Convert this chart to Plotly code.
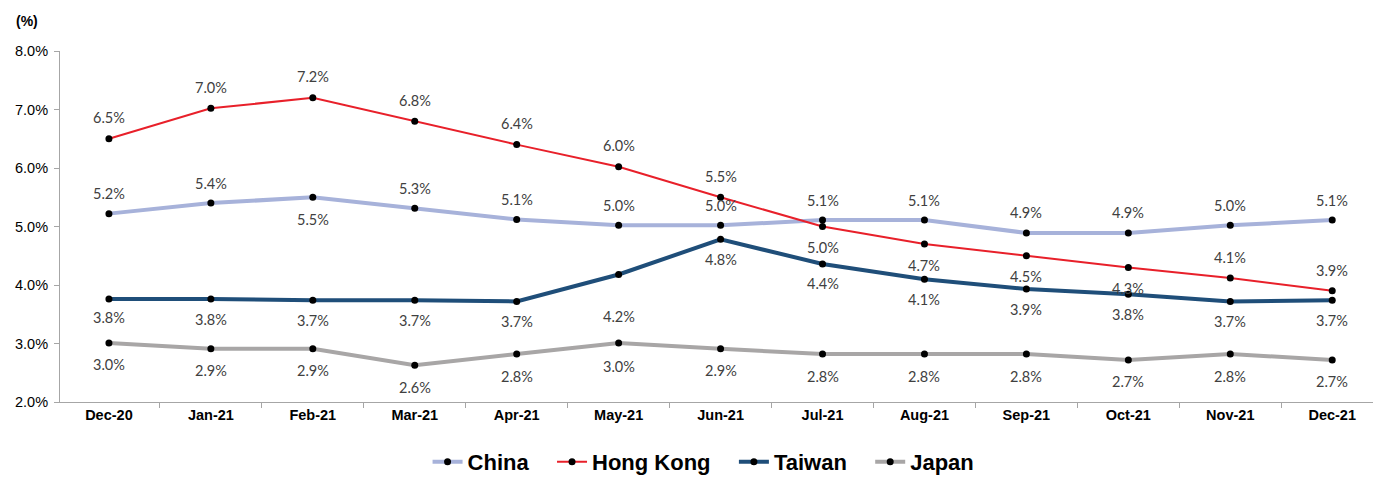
import plotly.graph_objects as go

months = ["Dec-20", "Jan-21", "Feb-21", "Mar-21", "Apr-21", "May-21", "Jun-21",
          "Jul-21", "Aug-21", "Sep-21", "Oct-21", "Nov-21", "Dec-21"]
china = [5.22, 5.40, 5.50, 5.31, 5.12, 5.02, 5.02, 5.11, 5.11, 4.89, 4.89, 5.02, 5.11]
hong_kong = [6.5, 7.02, 7.2, 6.8, 6.4, 6.02, 5.5, 5.0, 4.7, 4.5, 4.3, 4.12, 3.9]
taiwan = [3.76, 3.76, 3.74, 3.74, 3.72, 4.18, 4.78, 4.36, 4.10, 3.93, 3.84, 3.72, 3.74]
japan = [3.01, 2.91, 2.91, 2.63, 2.82, 3.01, 2.91, 2.82, 2.82, 2.82, 2.72, 2.82, 2.72]

# label offsets in pixels (positive = above)
china_off = [20, 20, -22, 20, 20, 20, 20, 20, 20, 20, 20, 20, 20]
hk_off = [21, 21, 21, 21, 21, 21, 21, -21, -21, -21, -21, 20, 20]
tw_off = [-18, -20, -20, -20, -20, -42, -20, -20, -20, -20, -20, -20, -20]
jp_off = [-22, -22, -22, -22, -22, -24, -22, -22, -22, -22, -22, -22, -22]

series = [
    ("China", china, "#A7B2DA", 4, china_off),
    ("Hong Kong", hong_kong, "#E8202A", 2, hk_off),
    ("Taiwan", taiwan, "#1F4E79", 4, tw_off),
    ("Japan", japan, "#A8A6A6", 4, jp_off),
]

fig = go.Figure()
annotations = []
for name, vals, color, width, offs in series:
    fig.add_trace(go.Scatter(
        x=months, y=[v / 100 for v in vals], name=f"<b>{name}</b>\u00a0\u00a0\u00a0", mode="lines+markers",
        line=dict(color=color, width=width),
        marker=dict(color="black", size=7),
    ))
    for m, v, o in zip(months, vals, offs):
        annotations.append(dict(
            x=m, y=v / 100, xref="x", yref="y", text=f"{round(v, 1):.1f}%",
            showarrow=False, yshift=o,
            font=dict(family="Lato, Carlito, sans-serif", size=14.5, color="#404040"),
        ))

fig.update_layout(
    width=1373, height=477,
    margin=dict(l=60, r=0, t=51, b=75, autoexpand=False),
    paper_bgcolor="white", plot_bgcolor="white",
    font=dict(family="Liberation Sans, Arial, sans-serif", color="black"),
    showlegend=True,
    legend=dict(orientation="h", x=0.497, xanchor="center", y=-0.171, yanchor="middle",
                font=dict(size=22, family="Liberation Sans, Arial, sans-serif"),
                itemwidth=30, tracegroupgap=0),
    annotations=annotations,
)
fig.add_annotation(x=-0.025, y=1.085, xref="paper", yref="paper", text="<b>(%)</b>",
                   showarrow=False, font=dict(size=14, family="Liberation Sans, Arial, sans-serif"),
                   xanchor="center", yanchor="middle")

fig.update_xaxes(
    type="category", range=[-0.48, 12.4],
    showline=True, linecolor="#A6A6A6", linewidth=1,
    ticks="outside", tickson="boundaries", ticklen=5, tickcolor="#A6A6A6",
    tickfont=dict(size=14.5, family="Liberation Sans, Arial, sans-serif"),
    tickprefix="<b>", ticksuffix="</b>", showgrid=False, zeroline=False,
)
fig.update_yaxes(
    range=[0.02, 0.08], dtick=0.01, tickformat=".1%",
    showline=True, linecolor="#A6A6A6", linewidth=1,
    ticks="outside", ticklen=5, tickcolor="#A6A6A6", ticklabelstandoff=3,
    tickfont=dict(size=14.5, family="Liberation Sans, Arial, sans-serif"),
    showgrid=False, zeroline=False,
)

fig.write_html("out.html")
